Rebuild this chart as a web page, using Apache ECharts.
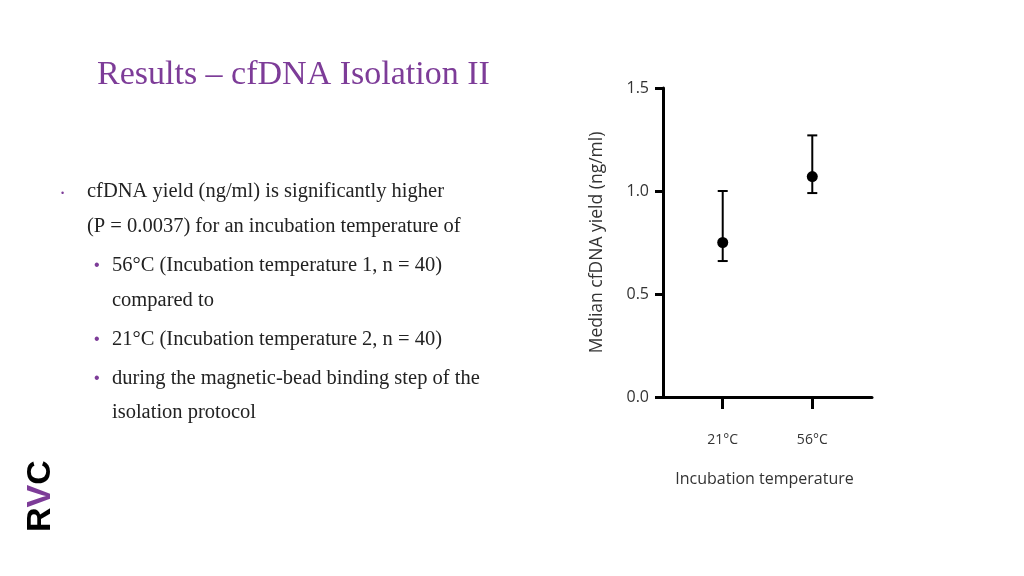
<!DOCTYPE html><html><head><meta charset="utf-8"><script src="https://cdn.jsdelivr.net/npm/echarts@6/dist/echarts.min.js"></script>
<style>body{margin:0;background:#fff}#c{width:1024px;height:576px}</style></head><body><div id="c"></div><script>
const categories=['21°C','56°C'];
const xPos=[1,2.5];
const medians=[0.75,1.07];
const lower=[0.66,0.99];
const upper=[1.00,1.27];
const yTicks=[0,0.5,1,1.5];
const purple='#7d3c98';
const serif='"Liberation Serif", serif';
const bodyLines=[
 {x:87,y:192,t:'cfDNA yield (ng/ml) is significantly higher'},
 {x:87,y:227,t:'(P = 0.0037) for an incubation temperature of'},
 {x:112,y:266,t:'56°C (Incubation temperature 1, n = 40)',b:1},
 {x:112,y:301,t:'compared to'},
 {x:112,y:340,t:'21°C (Incubation temperature 2, n = 40)',b:1},
 {x:112,y:379,t:'during the magnetic-bead binding step of the',b:1},
 {x:112,y:413,t:'isolation protocol'}];
const g=[{type:'text',x:97,y:75,style:{text:'Results – cfDNA Isolation II',font:'34px '+serif,fill:purple,verticalAlign:'middle'}},
 {type:'text',x:61,y:194,style:{text:'•',font:'9px sans-serif',fill:purple,verticalAlign:'middle'}},
 {type:'text',x:41,y:532,rotation:Math.PI/2,style:{text:'{a|R}{b|V}{a|C}',verticalAlign:'middle',rich:{a:{font:'bold 34px "Liberation Sans"',fill:'#000'},b:{font:'bold 34px "Liberation Sans"',fill:purple}}}}];
bodyLines.forEach(l=>{g.push({type:'text',x:l.x,y:l.y,style:{text:l.t,font:'20.5px '+serif,fill:'#222',verticalAlign:'middle'}});
 if(l.b)g.push({type:'text',x:94,y:l.y,style:{text:'•',font:'16px sans-serif',fill:purple,verticalAlign:'middle'}});});
const chart=echarts.init(document.getElementById('c'));
chart.setOption({animation:false,graphic:g,
grid:{left:663,top:88,right:152,bottom:179,containLabel:false},
xAxis:{type:'value',min:0,max:3.5,interval:0.5,splitLine:{show:false},
 axisLine:{lineStyle:{color:'#000',width:3}},
 axisTick:{customValues:xPos,length:12,lineStyle:{color:'#000',width:3}},
 axisLabel:{customValues:xPos,formatter:v=>categories[xPos.indexOf(v)]||'',margin:36,color:'#333',fontSize:14,fontFamily:'"Open Sans"'},
 name:'Incubation temperature',nameLocation:'middle',nameGap:74,nameTextStyle:{color:'#333',fontSize:16,fontFamily:'"Open Sans"',padding:[0,0,0,-6]}},
yAxis:{type:'value',min:0,max:1.5,interval:0.5,splitLine:{show:false},
 axisLine:{show:true,lineStyle:{color:'#000',width:3}},
 axisTick:{show:true,length:8,lineStyle:{color:'#000',width:3}},
 axisLabel:{formatter:v=>v.toFixed(1),color:'#333',fontSize:16,fontFamily:'"Open Sans"',margin:14},
 name:'Median cfDNA yield (ng/ml)',nameLocation:'middle',nameGap:57,nameTextStyle:{color:'#333',fontSize:17.5,fontFamily:'"Open Sans"'}},
series:[{type:'custom',data:xPos.map((x,i)=>[x,lower[i],upper[i]]),renderItem:(p,api)=>{
 const a=api.coord([api.value(0),api.value(1)]),b=api.coord([api.value(0),api.value(2)]);const s={stroke:'#000',lineWidth:2};
 return {type:'group',children:[{type:'line',shape:{x1:a[0],y1:a[1],x2:b[0],y2:b[1]},style:s},
 {type:'line',shape:{x1:a[0]-5,y1:a[1],x2:a[0]+5,y2:a[1]},style:s},{type:'line',shape:{x1:b[0]-5,y1:b[1],x2:b[0]+5,y2:b[1]},style:s}]};}},
 {type:'scatter',data:xPos.map((x,i)=>[x,medians[i]]),symbolSize:11,itemStyle:{color:'#000',opacity:1}}]});
</script></body></html>
